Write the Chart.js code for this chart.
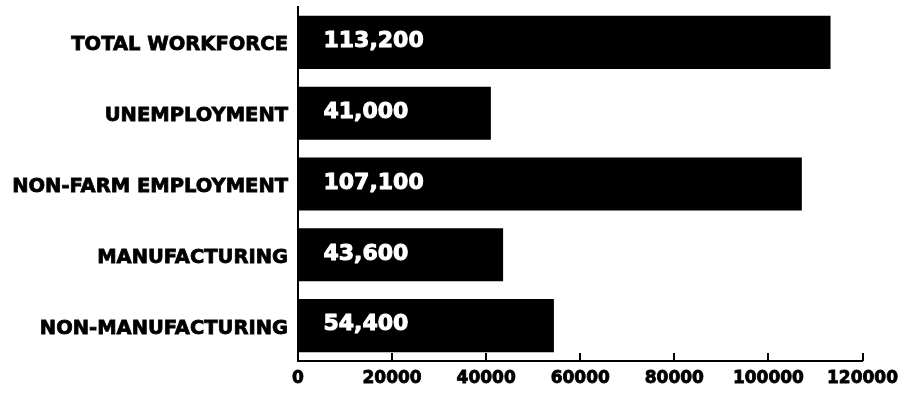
<!DOCTYPE html>
<html>
<head>
<meta charset="utf-8">
<script src="https://cdn.jsdelivr.net/npm/chart.js@4"></script>
<style>
    html, body { margin: 0; padding: 0; background: #fff; }
    #wrap { width: 905px; height: 394px; }
</style>
</head>
<body>
<div id="wrap"><canvas id="workforceChart"></canvas></div>
<script>
const categories = ['TOTAL WORKFORCE', 'UNEMPLOYMENT', 'NON-FARM EMPLOYMENT', 'MANUFACTURING', 'NON-MANUFACTURING'];
const counts = [113200, 41000, 107100, 43600, 54400];
const axisTicks = [0, 20000, 40000, 60000, 80000, 100000, 120000];

const FONT = "'DejaVu Sans', sans-serif";

// value labels sit near the start of each bar
const valueLabels = {
    id: 'valueLabels',
    afterDatasetsDraw(chart) {
        const ctx = chart.ctx;
        const meta = chart.getDatasetMeta(0);
        ctx.save();
        ctx.font = 'bold 22px ' + FONT;
        ctx.textBaseline = 'middle';
        ctx.textAlign = 'left';
        ctx.lineWidth = 1;
        ctx.lineJoin = 'round';
        meta.data.forEach((bar, i) => {
            const text = counts[i].toLocaleString('en-US');
            const x = bar.base + 25;
            const fits = x + ctx.measureText(text).width + 6 < bar.x;
            const color = fits ? '#ffffff' : '#000000';
            const tx = fits ? x : bar.x + 4;
            ctx.fillStyle = color;
            ctx.strokeStyle = color;
            ctx.strokeText(text, tx, bar.y - 1);
            ctx.fillText(text, tx, bar.y - 1);
        });
        ctx.restore();
    }
};

// short tick marks pointing up from the x axis
const innerTicks = {
    id: 'innerTicks',
    afterDraw(chart) {
        const ctx = chart.ctx;
        const scale = chart.scales.x;
        ctx.save();
        ctx.strokeStyle = '#000';
        ctx.lineWidth = 2;
        scale.ticks.forEach((t, i) => {
            const px = Math.round(scale.getPixelForTick(i));
            ctx.beginPath();
            ctx.moveTo(px, scale.top);
            ctx.lineTo(px, scale.top - 8);
            ctx.stroke();
        });
        ctx.restore();
    }
};

new Chart(document.getElementById('workforceChart').getContext('2d'), {
    type: 'bar',
    data: {
        labels: categories,
        datasets: [{
            data: counts,
            backgroundColor: '#000000',
            borderWidth: 0,
            categoryPercentage: 1,
            barPercentage: 0.75
        }]
    },
    options: {
        indexAxis: 'y',
        responsive: true,
        maintainAspectRatio: false,
        animation: false,
        layout: {
            padding: { top: 7, right: 1, bottom: 0, left: 0 }
        },
        scales: {
            x: {
                min: 0,
                max: 120000,
                afterBuildTicks(scale) {
                    scale.ticks = axisTicks.map(v => ({ value: v }));
                },
                afterFit(scale) {
                    scale.height = 33;
                },
                grid: { display: true, drawOnChartArea: false, drawTicks: false },
                border: { display: true, color: '#000', width: 2 },
                ticks: {
                    padding: 7,
                    color: '#000',
                    maxRotation: 0,
                    textStrokeColor: '#000',
                    textStrokeWidth: 0.8,
                    font: { family: FONT, size: 17, weight: 'bold' },
                    callback: v => String(v)
                }
            },
            y: {
                grid: { display: false, drawTicks: false },
                border: { display: true, color: '#000', width: 2 },
                afterFit(scale) {
                    scale.width = 298;
                    scale.paddingTop = 0;
                    scale.paddingBottom = 0;
                },
                ticks: {
                    padding: 10,
                    labelOffset: 3,
                    color: '#000',
                    textStrokeColor: '#000',
                    textStrokeWidth: 0.8,
                    font: { family: FONT, size: 19.5, weight: 'bold' }
                }
            }
        },
        plugins: {
            legend: { display: false },
            tooltip: { enabled: false }
        }
    },
    plugins: [valueLabels, innerTicks]
});
</script>
</body>
</html>
